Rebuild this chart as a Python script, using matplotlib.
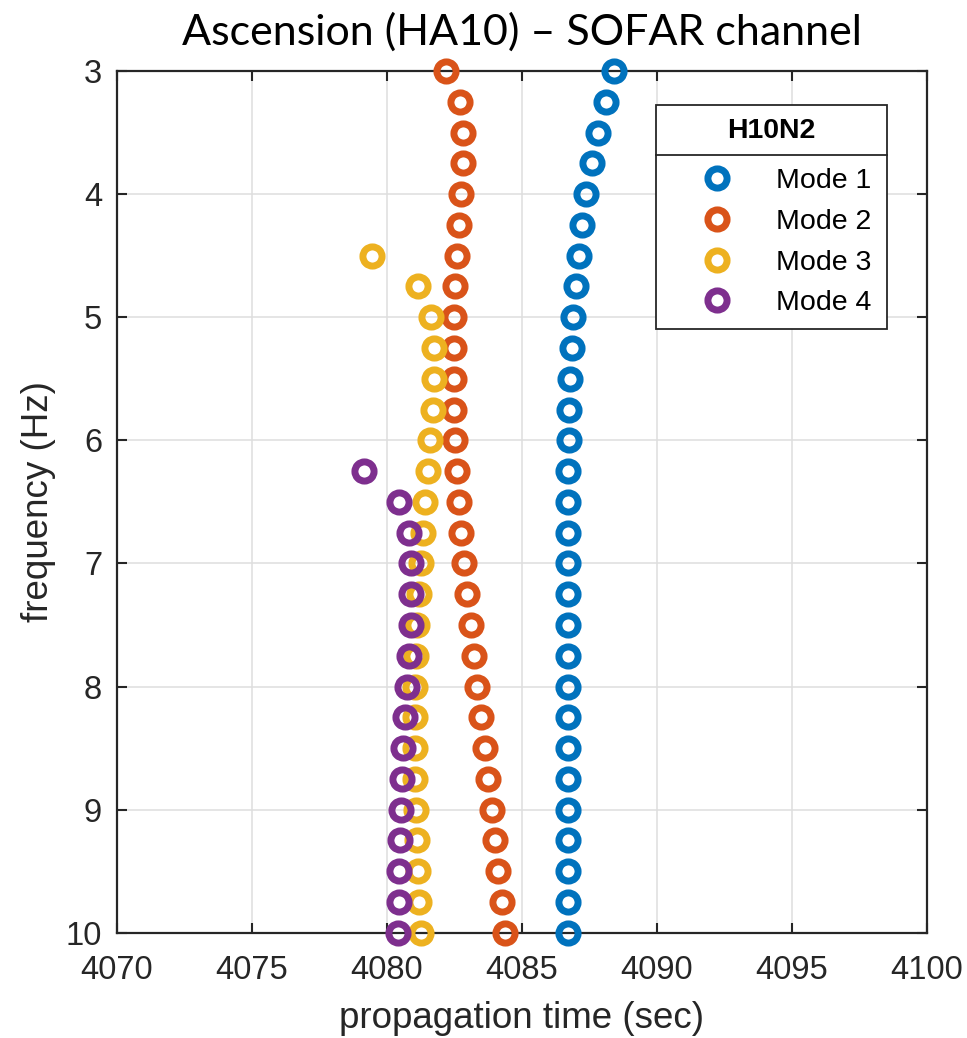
import matplotlib
matplotlib.use("Agg")
import matplotlib.pyplot as plt
from matplotlib.lines import Line2D
from matplotlib.patches import Rectangle
import numpy as np

# ---- data ----
freq_mode1 = [3.0, 3.25, 3.5, 3.75, 4.0, 4.25, 4.5, 4.75, 5.0, 5.25, 5.5, 5.75, 6.0, 6.25, 6.5,
              6.75, 7.0, 7.25, 7.5, 7.75, 8.0, 8.25, 8.5, 8.75, 9.0, 9.25, 9.5, 9.75, 10.0]
time_mode1 = [4088.41, 4088.11, 4087.81, 4087.59, 4087.39, 4087.24, 4087.11, 4087.00, 4086.91,
              4086.86, 4086.80, 4086.76, 4086.74, 4086.73, 4086.71, 4086.70, 4086.70, 4086.70,
              4086.70, 4086.70, 4086.70, 4086.70, 4086.71, 4086.72, 4086.73, 4086.73, 4086.73,
              4086.73, 4086.73]

freq_mode2 = freq_mode1
time_mode2 = [4082.19, 4082.73, 4082.84, 4082.83, 4082.75, 4082.67, 4082.59, 4082.52, 4082.48,
              4082.48, 4082.48, 4082.50, 4082.54, 4082.59, 4082.68, 4082.76, 4082.87, 4082.97,
              4083.11, 4083.23, 4083.36, 4083.49, 4083.63, 4083.75, 4083.89, 4084.01, 4084.13,
              4084.26, 4084.37]

freq_mode3 = [4.5, 4.75, 5.0, 5.25, 5.5, 5.75, 6.0, 6.25, 6.5, 6.75, 7.0, 7.25, 7.5, 7.75, 8.0,
              8.25, 8.5, 8.75, 9.0, 9.25, 9.5, 9.75, 10.0]
time_mode3 = [4079.44, 4081.17, 4081.64, 4081.76, 4081.76, 4081.70, 4081.61, 4081.52, 4081.43,
              4081.34, 4081.26, 4081.19, 4081.13, 4081.09, 4081.06, 4081.05, 4081.05, 4081.06,
              4081.09, 4081.12, 4081.15, 4081.20, 4081.26]

freq_mode4 = [6.25, 6.5, 6.75, 7.0, 7.25, 7.5, 7.75, 8.0, 8.25, 8.5, 8.75, 9.0, 9.25, 9.5, 9.75, 10.0]
time_mode4 = [4079.15, 4080.44, 4080.81, 4080.91, 4080.91, 4080.89, 4080.83, 4080.75, 4080.69,
              4080.61, 4080.57, 4080.53, 4080.49, 4080.47, 4080.44, 4080.43]

series_labels = ["Mode 1", "Mode 2", "Mode 3", "Mode 4"]
series_colors = ["#0072BD", "#D95319", "#EDB120", "#7E2F8E"]
legend_title = "H10N2"
title_text = "Ascension (HA10) \u2013 SOFAR channel"
xlabel_text = "propagation time (sec)"
ylabel_text = "frequency (Hz)"
xticks = [4070, 4075, 4080, 4085, 4090, 4095, 4100]
yticks = [3, 4, 5, 6, 7, 8, 9, 10]

# ---- figure ----
W, H = 967, 1038
AX_L, AX_T, AX_W, AX_H = 116.7, 71.0, 810.0, 861.7
fig = plt.figure(figsize=(W / 100, H / 100), dpi=100)
ax = fig.add_axes([AX_L / W, 1 - (AX_T + AX_H) / H, AX_W / W, AX_H / H])

plt.rcParams['font.family'] = ['Liberation Sans', 'DejaVu Sans']


def ax_x(px):
    return (px - AX_L) / AX_W


def ax_y(py):
    return 1 - (py - AX_T) / AX_H


dark = "#262626"
series = [(time_mode1, freq_mode1), (time_mode2, freq_mode2),
          (time_mode3, freq_mode3), (time_mode4, freq_mode4)]
for (t, f), lab, col in zip(series, series_labels, series_colors):
    ax.plot(t, f, linestyle="none", marker="o", markersize=13.8, markeredgewidth=5.0,
            markerfacecolor="none", markeredgecolor=col, label=lab, clip_on=False, zorder=3)

ax.set_xlim(4070, 4100)
ax.set_ylim(10, 3)
ax.set_xticks(xticks)
ax.set_yticks(yticks)
ax.set_xticklabels([str(v) for v in xticks], family="Liberation Sans", fontsize=23.5, color=dark)
ax.set_yticklabels([str(v) for v in yticks], family="Liberation Sans", fontsize=23.5, color=dark)
ax.tick_params(axis="both", direction="in", length=7, width=1.5, color=dark,
               top=True, right=True)
ax.tick_params(axis="y", pad=10.5)
ax.tick_params(axis="x", pad=16)
for s in ax.spines.values():
    s.set_linewidth(1.6)
    s.set_color(dark)
ax.grid(True, color="#dedede", linewidth=1.1)
ax.set_axisbelow(True)

ax.set_xlabel(xlabel_text, family="Liberation Sans", fontsize=26.5, color=dark, labelpad=10.5)
ax.set_ylabel(ylabel_text, family="Liberation Sans", fontsize=26.5, color=dark, labelpad=7)

ttl = ax.set_title(title_text, family=["Lato", "DejaVu Sans"], fontsize=31, color="black", pad=19)

# ---- legend: frame + header drawn by hand, entries by matplotlib ----
fx0, fx1 = ax_x(655.7), ax_x(887.3)
fy0, fy1 = ax_y(329.3), ax_y(105.0)
ysep = ax_y(155.0)
ax.add_patch(Rectangle((fx0, fy0), fx1 - fx0, fy1 - fy0, transform=ax.transAxes,
                       facecolor="white", edgecolor=dark, linewidth=1.3, zorder=8, clip_on=False))
ax.add_line(Line2D([fx0, fx1], [ysep, ysep], transform=ax.transAxes, color=dark,
                   linewidth=1.3, zorder=9, clip_on=False))
ax.text((fx0 + fx1) / 2, ax_y(131.0), legend_title, transform=ax.transAxes, ha="center",
        va="center", family="Liberation Sans", fontsize=20.5, fontweight="bold", color="black",
        zorder=9)

leg = ax.legend(loc="upper left", bbox_to_anchor=(ax_x(688.0), ax_y(167.0)), borderaxespad=0,
                frameon=False, prop={"family": "Liberation Sans", "size": 20.5},
                handlelength=2.0, handletextpad=1.08, borderpad=0.0, labelspacing=0.52)
leg.set_zorder(10)

# align first entry text to target position
fig.canvas.draw()
r = fig.canvas.get_renderer()
tb = leg.get_texts()[0].get_window_extent(r)
target_left = 776.0
target_cy = H - 181.0
dx = (target_left - tb.x0) / AX_W
dy = (target_cy - (tb.y0 + tb.y1) / 2) / AX_H
leg.set_bbox_to_anchor((ax_x(688.0) + dx, ax_y(167.0) + dy), transform=ax.transAxes)

fig.savefig("out.png", dpi=100)
